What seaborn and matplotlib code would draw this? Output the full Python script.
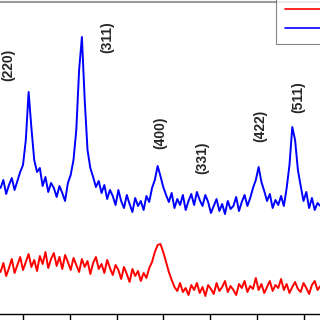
import numpy as np
import pandas as pd
import seaborn as sns
import matplotlib
matplotlib.use("Agg")
import matplotlib.pyplot as plt

# 2-theta sampling (deg)
two_theta = np.round(np.arange(115) * 0.3 + 27.6, 2)

# intensity (a.u.)
annealed = [126, 134, 120, 129, 136, 124, 133, 142, 149, 174,
            222, 186, 154, 142, 146, 128, 137, 122, 131, 126,
            117, 128, 121, 113, 131, 139, 154, 184, 244, 277,
            214, 164, 146, 137, 127, 133, 121, 129, 115, 124,
            118, 109, 124, 113, 106, 119, 110, 102, 116, 108,
            113, 104, 118, 112, 126, 134, 148, 138, 127, 119,
            112, 121, 106, 115, 109, 119, 104, 113, 120, 109,
            122, 114, 108, 119, 112, 101, 108, 115, 103, 110,
            100, 113, 105, 108, 117, 103, 112, 119, 108, 116,
            126, 134, 147, 132, 123, 113, 120, 106, 114, 109,
            118, 108, 126, 149, 187, 174, 144, 128, 113, 122,
            106, 116, 104, 111, 108]

as_prepared = [42, 51, 38, 46, 55, 41, 49, 57, 44, 52,
               60, 47, 54, 43, 58, 50, 62, 46, 55, 61,
               48, 57, 45, 59, 52, 44, 56, 49, 42, 55,
               47, 53, 40, 51, 57, 45, 50, 41, 54, 46,
               39, 49, 44, 35, 47, 40, 32, 45, 38, 43,
               33, 41, 36, 46, 52, 62, 69, 70, 62, 52,
               42, 34, 27, 23, 31, 22, 26, 19, 29, 24,
               31, 21, 27, 18, 29, 25, 20, 31, 23, 27,
               33, 22, 28, 24, 19, 30, 26, 33, 22, 28,
               25, 36, 24, 30, 21, 27, 33, 23, 29, 26,
               35, 24, 30, 21, 27, 32, 25, 22, 31, 26,
               20, 29, 33, 24, 28]

planes = ["(220)", "(311)", "(400)", "(331)", "(422)", "(511)"]
plane_x = [28.40, 38.98, 44.65, 49.14, 55.35, 59.41]
plane_y = [249, 277, 181, 156, 188, 217]

df = pd.DataFrame({
    "2theta": np.concatenate([two_theta, two_theta]),
    "intensity": as_prepared + annealed,
    "sample": ["as-prepared"] * len(two_theta) + ["annealed"] * len(two_theta),
})

sns.set_style("white")
plt.rcParams["font.family"] = ["Liberation Sans", "DejaVu Sans"]

fig = plt.figure(figsize=(3.2, 3.2), dpi=100)
ax = fig.add_axes([0, 6 / 320, 1, 312 / 320])

sns.lineplot(data=df, x="2theta", y="intensity", hue="sample",
             palette={"as-prepared": "#ff0000", "annealed": "#0000ff"},
             estimator=None, sort=False, linewidth=1.4, ax=ax)

for lab, px, py in zip(planes, plane_x, plane_y):
    ax.text(px, py, lab, rotation=90, ha="center", va="center",
            fontsize=10, fontweight="bold")

ax.set_xlim(27.54, 27.54 + 320 / 9.35)
ax.set_ylim(0, 312)
ax.set_xticks([30, 35, 40, 45, 50, 55, 60])
ax.set_xticklabels([])
ax.set_yticks([])
ax.set_xlabel("")
ax.set_ylabel("")
ax.tick_params(axis="x", direction="out", length=4.5, width=1, bottom=True, colors="black")
ax.spines["left"].set_visible(False)
ax.spines["right"].set_visible(False)
ax.spines["top"].set_color("0.6")
ax.spines["top"].set_linewidth(1.5)
ax.spines["bottom"].set_color("black")
ax.spines["bottom"].set_linewidth(1)

# legend is cropped in the reference: only the frame and the line keys show
handles = ax.get_legend_handles_labels()[0]
leg = ax.legend(handles, ["", ""], loc="upper left",
                bbox_to_anchor=(276 / 320, 1 + 4 / 320),
                bbox_transform=fig.transFigure, fontsize=9, handlelength=3.5,
                borderpad=0.7, borderaxespad=0, fancybox=False, frameon=True)
leg.get_frame().set_edgecolor("0.4")
leg.get_frame().set_linewidth(0.8)
for line in leg.get_lines():
    line.set_linewidth(1.2)

fig.savefig("out.png", dpi=100)
